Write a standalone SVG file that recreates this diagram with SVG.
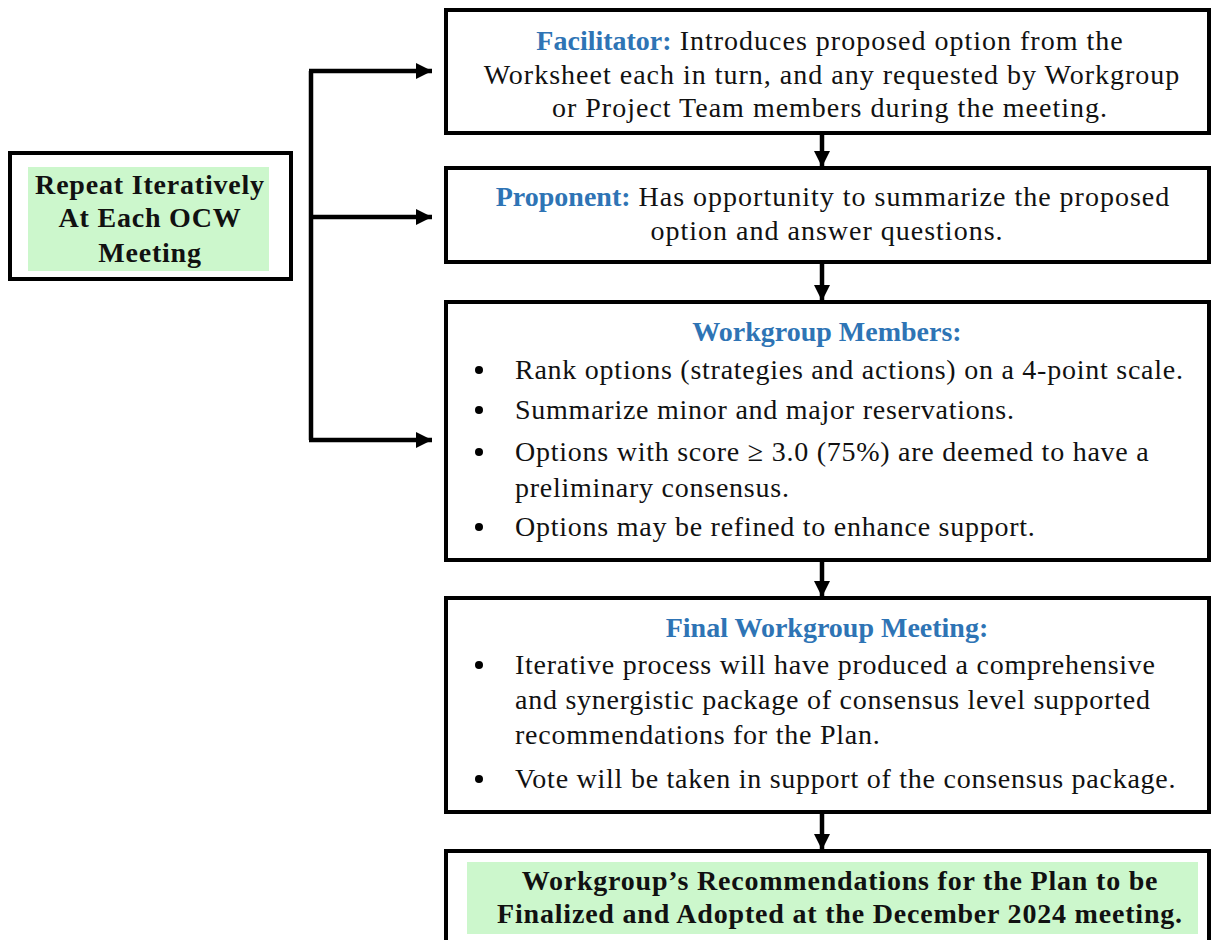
<svg xmlns="http://www.w3.org/2000/svg" width="1212" height="940" viewBox="0 0 1212 940">
<style>
.box{fill:#fff;stroke:#000;stroke-width:4}
.green{fill:#ccf7cc}
.t{font-family:"Liberation Serif",serif;font-size:28px;fill:#111;letter-spacing:1px}
.bl{letter-spacing:0.75px}
.c{text-anchor:middle}
.b{font-weight:bold;letter-spacing:0.8px}
.blue{fill:#2E74B5;font-weight:bold;letter-spacing:0}
.conn{fill:none;stroke:#000;stroke-width:4.5}
.dot{fill:#000}
</style>
<defs>
<marker id="ah" markerUnits="userSpaceOnUse" markerWidth="16" markerHeight="16" viewBox="0 0 16 16" refX="16" refY="8" orient="auto">
<path d="M0,0 L16,8 L0,16 z" fill="#000"/>
</marker>
</defs>
<rect width="1212" height="940" fill="#fff"/>
<g id="connectors">
<path class="conn" d="M311,71 V440"/>
<path class="conn" d="M309,71 H432" marker-end="url(#ah)"/>
<path class="conn" d="M311,217 H432" marker-end="url(#ah)"/>
<path class="conn" d="M309,440 H432" marker-end="url(#ah)"/>
<path class="conn" d="M822,133 V167" marker-end="url(#ah)"/>
<path class="conn" d="M822,262 V301" marker-end="url(#ah)"/>
<path class="conn" d="M822,560 V597" marker-end="url(#ah)"/>
<path class="conn" d="M822,812 V850" marker-end="url(#ah)"/>
</g>
<g id="repeat">
<rect class="box" x="10" y="153" width="281" height="126"/>
<rect class="green" x="28" y="167" width="241" height="104"/>
<text class="t b c" x="150" y="194">Repeat Iteratively</text>
<text class="t b c" x="150" y="227">At Each OCW</text>
<text class="t b c" x="150" y="262">Meeting</text>
</g>
<g id="facilitator">
<rect class="box" x="446" y="10" width="763" height="123"/>
<text class="t c" x="830" y="50"><tspan class="blue">Facilitator:</tspan> Introduces proposed option from the</text>
<text class="t c" x="832" y="84">Worksheet each in turn, and any requested by Workgroup</text>
<text class="t c" x="830" y="117">or Project Team members during the meeting.</text>
</g>
<g id="proponent">
<rect class="box" x="446" y="168" width="763" height="94"/>
<text class="t c" x="833" y="206"><tspan class="blue">Proponent:</tspan> Has opportunity to summarize the proposed</text>
<text class="t c" x="827" y="240">option and answer questions.</text>
</g>
<g id="workgroup">
<rect class="box" x="446" y="302" width="763" height="258"/>
<text class="t blue c" x="827" y="341">Workgroup Members:</text>
<circle class="dot" cx="479" cy="370" r="4"/>
<circle class="dot" cx="479" cy="410" r="4"/>
<circle class="dot" cx="479" cy="452" r="4"/>
<circle class="dot" cx="479" cy="527" r="4"/>
<g class="t bl">
<text x="515" y="379">Rank options (strategies and actions) on a 4-point scale.</text>
<text x="515" y="419">Summarize minor and major reservations.</text>
<text x="515" y="461">Options with score ≥ 3.0 (75%) are deemed to have a</text>
<text x="515" y="497">preliminary consensus.</text>
<text x="515" y="536">Options may be refined to enhance support.</text>
</g>
</g>
<g id="final">
<rect class="box" x="446" y="598" width="763" height="214"/>
<text class="t blue c" x="827" y="637">Final Workgroup Meeting:</text>
<circle class="dot" cx="479" cy="665" r="4"/>
<circle class="dot" cx="479" cy="779" r="4"/>
<g class="t bl">
<text x="515" y="674">Iterative process will have produced a comprehensive</text>
<text x="515" y="709">and synergistic package of consensus level supported</text>
<text x="515" y="744">recommendations for the Plan.</text>
<text x="515" y="788">Vote will be taken in support of the consensus package.</text>
</g>
</g>
<g id="recommendations">
<rect class="box" x="446" y="851" width="763" height="120"/>
<rect class="green" x="467" y="862" width="731" height="72"/>
<text class="t b c" x="840" y="890">Workgroup’s Recommendations for the Plan to be</text>
<text class="t b c" x="840" y="923">Finalized and Adopted at the December 2024 meeting.</text>
</g>
</svg>
